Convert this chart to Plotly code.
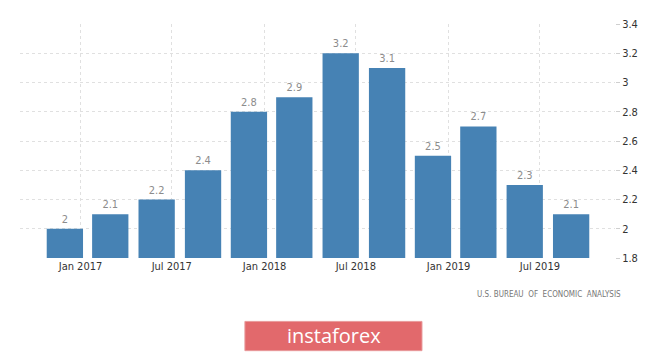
import plotly.graph_objects as go

# Quarterly data (bars centered on these dates)
dates = ["2016-12-01", "2017-03-01", "2017-06-01", "2017-09-01",
         "2017-12-01", "2018-03-01", "2018-06-01", "2018-09-01",
         "2018-12-01", "2019-03-01", "2019-06-01", "2019-09-01"]
values = [2.0, 2.1, 2.2, 2.4, 2.8, 2.9, 3.2, 3.1, 2.5, 2.7, 2.3, 2.1]
value_labels = ["2", "2.1", "2.2", "2.4", "2.8", "2.9", "3.2", "3.1", "2.5", "2.7", "2.3", "2.1"]

x_tickvals = ["2017-01-01", "2017-07-01", "2018-01-01", "2018-07-01", "2019-01-01", "2019-07-01"]
x_ticktext = ["Jan 2017", "Jul 2017", "Jan 2018", "Jul 2018", "Jan 2019", "Jul 2019"]
y_tickvals = [1.8, 2.0, 2.2, 2.4, 2.6, 2.8, 3.0, 3.2, 3.4]
y_ticktext = ["1.8", "2", "2.2", "2.4", "2.6", "2.8", "3", "3.2", "3.4"]

source_text = "U.S. BUREAU  OF  ECONOMIC  ANALYSIS"
logo_text = "instaforex"

FONT = "DejaVu Sans Condensed"
DAY_MS = 86400000

fig = go.Figure()
fig.add_trace(go.Bar(
    x=dates, y=values,
    width=[72 * DAY_MS] * len(values),
    marker=dict(color="#4682B4", line=dict(width=0)),
    text=value_labels, textposition="outside",
    textfont=dict(family=FONT, size=11, color="#8c8c8c"),
    cliponaxis=False,
    hoverinfo="skip",
))

# page body has an 8px margin, so the figure is sized 8px smaller
fig.update_layout(
    width=657, height=347,
    margin=dict(l=12, r=50, t=10, b=97),
    paper_bgcolor="white", plot_bgcolor="white",
    showlegend=False,
    font=dict(family=FONT, size=11, color="#333"),
    xaxis=dict(
        type="date",
        range=["2016-09-03", "2019-11-27"],
        tickvals=x_tickvals, ticktext=x_ticktext,
        showgrid=True, gridcolor="#e0e0e0", griddash="dot", gridwidth=1,
        showline=False, zeroline=False, ticks="",
        tickfont=dict(family=FONT, size=11, color="#333"),
    ),
    yaxis=dict(
        side="right",
        range=[1.8, 3.4],
        tickvals=y_tickvals, ticktext=y_ticktext,
        showgrid=True, gridcolor="#e0e0e0", griddash="dot", gridwidth=1,
        showline=False, zeroline=False,
        ticks="outside", ticklen=4, tickcolor="#cfcfcf",
        tickfont=dict(family=FONT, size=11, color="#333"),
    ),
)

# source note
fig.add_annotation(
    xref="paper", yref="paper", x=1.013, y=-0.154,
    xanchor="right", yanchor="middle",
    text=source_text, showarrow=False,
    font=dict(family=FONT, size=8, color="#777"),
)

# logo box
fig.add_shape(
    type="rect", xref="paper", yref="paper",
    x0=0.378, x1=0.6756, y0=-0.396, y1=-0.271,
    fillcolor="#e2696c", line=dict(color="#e89a9b", width=1), layer="above",
)
fig.add_annotation(
    xref="paper", yref="paper", x=0.527, y=-0.333,
    xanchor="center", yanchor="middle",
    text=logo_text, showarrow=False,
    font=dict(family="Open Sans", size=20, color="white"),
)

fig.write_html("out.html")
